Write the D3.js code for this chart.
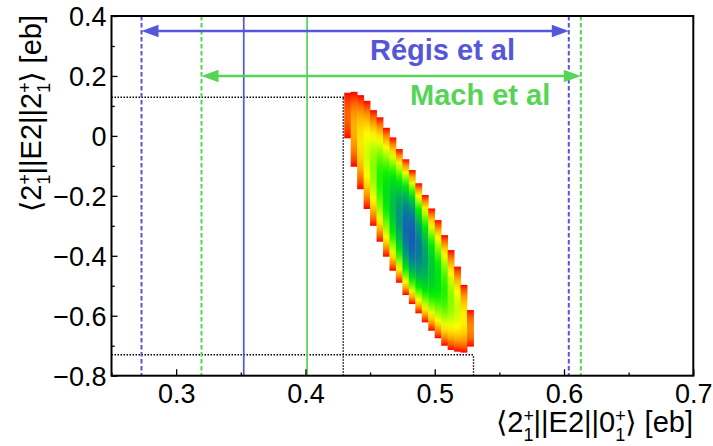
<!DOCTYPE html>
<html>
<head>
<meta charset="utf-8">
<script src="https://cdn.jsdelivr.net/npm/d3@7"></script>
<style>
body{margin:0;background:#fff;}
svg{display:block;font-family:"Liberation Sans",Arial,"DejaVu Sans",sans-serif;}
</style>
</head>
<body>
<svg id="myGraph"></svg>
<script>
// axis ticks
var xMajor=[0.3,0.4,0.5,0.6,0.7];
var xMinor=[0.25,0.35,0.45,0.55,0.65];
var xTickLabels=["0.3","0.4","0.5","0.6","0.7"];
var yMajor=[0.4,0.2,0,-0.2,-0.4,-0.6,-0.8];
var yMinor=[0.3,0.1,-0.1,-0.3,-0.5,-0.7];
var yTickLabels=["0.4","0.2","0","\u22120.2","\u22120.4","\u22120.6","\u22120.8"];

// literature values (vertical lines)
var regisX=[0.2732,0.3523,0.6037]; // low, central, high
var machX=[0.3196,0.4013,0.6130];
var arrowY=[0.35,0.20];           // regis, mach arrow heights

// projected limits of the fit region (dotted)
var limX=[0.43,0.53];
var limY=[0.129,-0.73];

// fit surface: one column per x bin (width 0.005)
var colLeft=[0.430,0.435,0.440,0.445,0.450,0.455,0.460,0.465,0.470,0.475,
             0.480,0.485,0.490,0.495,0.500,0.505,0.510,0.515,0.520,0.525];
var colTop=[0.144,0.147,0.136,0.117,0.086,0.062,0.027,-0.005,-0.044,-0.078,
            -0.114,-0.158,-0.197,-0.242,-0.281,-0.331,-0.381,-0.436,-0.497,-0.581];
var colBottom=[-0.008,-0.103,-0.178,-0.244,-0.300,-0.353,-0.403,-0.450,-0.490,-0.531,
               -0.561,-0.592,-0.622,-0.650,-0.675,-0.700,-0.714,-0.720,-0.723,-0.703];
var colMin=[0.90,0.80,0.72,0.63,0.55,0.45,0.38,0.28,0.18,0.05,
            0.00,0.10,0.20,0.30,0.38,0.45,0.55,0.62,0.70,0.85];
var binW=0.005;

var W=713,H=446;
var svg=d3.select("#myGraph").attr("width",W).attr("height",H);

var x=d3.scaleLinear().domain([0.25,0.7]).range([111.5,693.3]);
var y=d3.scaleLinear().domain([-0.8,0.4]).range([375.7,16]);

var color=d3.scaleLinear()
  .domain([0,0.1,0.2,0.3,0.42,0.55,0.68,0.8,0.9,1])
  .range(["#1858b8","#087a9c","#00a070","#00c838","#00f000","#88ff00","#ffff00","#ffb000","#ff6000","#ff0000"]);

var blue="#5656d8",green="#56d456";

// gradients for the columns
var defs=svg.append("defs");
var offs=d3.range(0,1.0001,0.05);
colLeft.forEach(function(c,i){
  var g=defs.append("linearGradient").attr("id","col"+i)
    .attr("x1",0).attr("y1",0).attr("x2",0).attr("y2",1);
  offs.forEach(function(o){
    var t=2*o-1;
    g.append("stop").attr("offset",o)
      .attr("stop-color",color(colMin[i]+(1-colMin[i])*t*t));
  });
});

// dotted limits
var dot="1.5,1.5";
svg.append("line").attr("x1",x(0.25)).attr("x2",x(limX[0]))
  .attr("y1",y(limY[0])).attr("y2",y(limY[0]))
  .attr("stroke","#000").attr("stroke-width",1.4).attr("stroke-dasharray",dot);
svg.append("line").attr("x1",x(0.25)).attr("x2",x(limX[1]))
  .attr("y1",y(limY[1])).attr("y2",y(limY[1]))
  .attr("stroke","#000").attr("stroke-width",1.4).attr("stroke-dasharray",dot);
svg.append("line").attr("x1",x(limX[0])-1).attr("x2",x(limX[0])-1)
  .attr("y1",y(-0.8)).attr("y2",y(limY[0]))
  .attr("stroke","#000").attr("stroke-width",1.4).attr("stroke-dasharray",dot);
svg.append("line").attr("x1",x(limX[1])).attr("x2",x(limX[1]))
  .attr("y1",y(-0.8)).attr("y2",y(limY[1]))
  .attr("stroke","#000").attr("stroke-width",1.4).attr("stroke-dasharray",dot);

// columns
svg.append("g").selectAll("rect")
  .data(colLeft)
  .enter()
  .append("rect")
  .attr("x",function(d){return x(d);})
  .attr("width",function(d){return x(d+binW)-x(d)+0.4;})
  .attr("y",function(d,i){return y(colTop[i]);})
  .attr("height",function(d,i){return y(colBottom[i])-y(colTop[i]);})
  .attr("fill",function(d,i){return "url(#col"+i+")";});

// vertical reference lines
function vline(v,col,dash){
  svg.append("line").attr("x1",x(v)).attr("x2",x(v))
    .attr("y1",y(0.4)).attr("y2",y(-0.8))
    .attr("stroke",col).attr("stroke-width",dash?2:1.7)
    .attr("stroke-dasharray",dash?"4.5,2.5":null);
}
vline(regisX[0],blue,true);vline(regisX[2],blue,true);vline(regisX[1],blue,false);
vline(machX[0],green,true);vline(machX[2],green,true);vline(machX[1],green,false);

// arrows
function arrow(a,b,yy,col){
  var xa=x(a),xb=x(b),py=y(yy),L=17,hw=6.2;
  svg.append("line").attr("x1",xa+L-1).attr("x2",xb-L+1).attr("y1",py).attr("y2",py)
    .attr("stroke",col).attr("stroke-width",2.5);
  svg.append("path").attr("d","M"+xa+","+py+"L"+(xa+L)+","+(py-hw)+"L"+(xa+L)+","+(py+hw)+"Z").attr("fill",col);
  svg.append("path").attr("d","M"+xb+","+py+"L"+(xb-L)+","+(py-hw)+"L"+(xb-L)+","+(py+hw)+"Z").attr("fill",col);
}
arrow(regisX[0],regisX[2],arrowY[0],blue);
arrow(machX[0],machX[2],arrowY[1],green);

svg.append("text").attr("x",370).attr("y",60).attr("font-size",29).attr("font-weight","bold")
  .attr("fill",blue).text("Régis et al");
svg.append("text").attr("x",410).attr("y",104.5).attr("font-size",29).attr("font-weight","bold")
  .attr("fill",green).text("Mach et al");

// axes
var xAxis=d3.axisBottom(x).tickValues(xMajor).tickSizeInner(-6.5).tickSizeOuter(0).tickPadding(8)
  .tickFormat(function(d,i){return xTickLabels[i];});
var gx=svg.append("g").attr("transform","translate(0,"+y(-0.8)+")").call(xAxis);
svg.append("g").attr("transform","translate(0,"+y(-0.8)+")")
  .call(d3.axisBottom(x).tickValues(xMinor).tickSizeInner(-3.2).tickSizeOuter(0).tickFormat(""))
  .select(".domain").remove();

var yAxis=d3.axisLeft(y).tickValues(yMajor).tickSizeInner(-6).tickSizeOuter(0).tickPadding(5)
  .tickFormat(function(d,i){return yTickLabels[i];});
var gy=svg.append("g").attr("transform","translate("+x(0.25)+",0)").call(yAxis);
svg.append("g").attr("transform","translate("+x(0.25)+",0)")
  .call(d3.axisLeft(y).tickValues(yMinor).tickSizeInner(-3.2).tickSizeOuter(0).tickFormat(""))
  .select(".domain").remove();

svg.selectAll(".tick line").attr("stroke","#000").attr("stroke-width",1.3);
gx.selectAll("text").attr("font-size",27).attr("fill","#000").attr("font-family",null);
gy.selectAll("text").attr("font-size",27).attr("fill","#000").attr("font-family",null).attr("dy","0.36em");
gx.select(".domain").remove();gy.select(".domain").remove();

// frame
svg.append("rect").attr("x",x(0.25)).attr("y",y(0.4))
  .attr("width",x(0.7)-x(0.25)).attr("height",y(-0.8)-y(0.4))
  .attr("fill","none").attr("stroke","#000").attr("stroke-width",2);

// axis titles with stacked sup/sub
function title(sel,last){
  sel.append("tspan").text("\u27E82");
  sel.append("tspan").attr("font-size",18).attr("dy",-10).text("+");
  sel.append("tspan").attr("font-size",18).attr("dx",-10.5).attr("dy",19).text("1");
  sel.append("tspan").attr("dy",-9).text("||E2||"+last);
  sel.append("tspan").attr("font-size",18).attr("dy",-10).text("+");
  sel.append("tspan").attr("font-size",18).attr("dx",-10.5).attr("dy",19).text("1");
  sel.append("tspan").attr("dy",-9).text("\u27E9 [eb]");
}
var xt=svg.append("text").attr("x",693).attr("y",432).attr("text-anchor","end").attr("font-size",29);
title(xt,"0");
var yt=svg.append("text").attr("transform","translate(40.7,15) rotate(-90)").attr("text-anchor","end").attr("font-size",29);
title(yt,"2");
</script>
</body>
</html>
